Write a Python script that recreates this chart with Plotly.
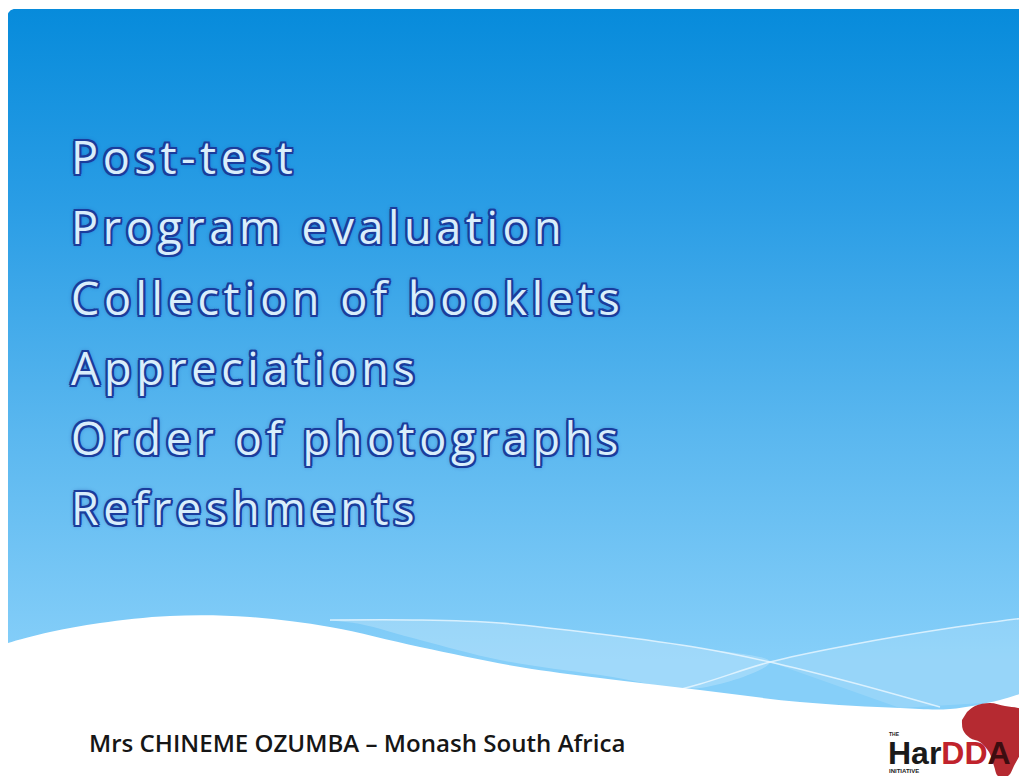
import numpy as np
import plotly.graph_objects as go

W, H = 1027, 776
OFF = 8  # page body margin: makes data coordinates equal screen pixels

# ---- content ----
bullet_items = ["Post-test", "Program evaluation", "Collection of booklets",
                "Appreciations", "Order of photographs", "Refreshments"]
bullet_y = [156, 226, 297, 367, 437, 507]
footer_text = "Mrs CHINEME OZUMBA \u2013 Monash South Africa"
logo_dark, logo_red, logo_last = "Har", "DD", "A"

# background panel (rounded top-left corner)
panel_left, panel_top, panel_bottom, corner_r = 7, 9, 730, 8
bg_colors = [[0.0, "#078bdb"], [0.3, "#2a9de5"], [0.65, "#5ab7ef"], [1.0, "#86cff9"]]

# wave outlines
white_wave_x = [0, 8, 50, 100, 170, 250, 330, 420, 520, 600, 700, 800, 900, 950, 1000, 1040]
white_wave_y = [646, 643, 632, 623, 616, 617, 627, 647, 667, 678, 690, 702, 708, 709, 700, 688]
lineA_x = [330, 420, 500, 600, 700, 770, 850, 940]
lineA_y = [620, 620, 623, 634, 648, 662, 682, 707]
lineB_x = [650, 700, 770, 850, 950, 1040]
lineB_y = [697, 684, 662, 645, 628, 616]
bandA_low_x = [700, 600, 500, 420, 360]
bandA_low_y = [688, 675, 660, 640, 624]

# logo africa outline
africa_x = [967, 975, 990, 1005, 1018, 1030, 1035, 1035, 1022, 1015, 1008, 998, 994, 989, 980, 970, 963, 962]
africa_y = [712, 706, 703, 706, 708, 712, 718, 738, 752, 764, 776, 776, 766, 752, 742, 738, 730, 720]

fig = go.Figure()

# panel polygon
ang = np.linspace(np.pi, 1.5 * np.pi, 20)
cx, cy = panel_left + corner_r, panel_top + corner_r
px = [panel_left] + list(cx + corner_r * np.cos(ang)) + [W + 20, W + 20, panel_left]
py = [panel_bottom] + list(cy + corner_r * np.sin(ang)) + [panel_top, panel_bottom, panel_bottom]
fig.add_trace(go.Scatter(x=px, y=py, mode="lines", fill="toself", line=dict(width=0),
                         fillgradient=dict(type="vertical", colorscale=bg_colors,
                                           start=panel_top, stop=660),
                         hoverinfo="skip", showlegend=False))

# lighter translucent bands
fig.add_trace(go.Scatter(x=lineA_x[:6] + bandA_low_x + [330],
                         y=lineA_y[:6] + bandA_low_y + [620],
                         mode="lines", fill="toself", line=dict(width=0, shape="spline"),
                         fillcolor="rgba(255,255,255,0.22)", hoverinfo="skip", showlegend=False))
fig.add_trace(go.Scatter(x=lineB_x[2:] + [1040, 1000, 900, 770],
                         y=lineB_y[2:] + [690, 702, 708, 662],
                         mode="lines", fill="toself", line=dict(width=0),
                         fillcolor="rgba(255,255,255,0.14)", hoverinfo="skip", showlegend=False))
for lx, ly in [(lineA_x, lineA_y), (lineB_x, lineB_y)]:
    fig.add_trace(go.Scatter(x=lx, y=ly, mode="lines",
                             line=dict(color="rgba(235,248,255,0.8)", width=1.5, shape="spline"),
                             hoverinfo="skip", showlegend=False))

# white wave
fig.add_trace(go.Scatter(x=white_wave_x + [W + 20, W + 20, -10, -10],
                         y=white_wave_y + [688, H + 20, H + 20, 646],
                         mode="lines", fill="toself", line=dict(width=0, shape="spline"),
                         fillcolor="white", hoverinfo="skip", showlegend=False))

# logo africa shape
fig.add_trace(go.Scatter(x=africa_x, y=africa_y, mode="lines", fill="toself",
                         line=dict(width=0, shape="spline"), fillcolor="#b52a31",
                         hoverinfo="skip", showlegend=False))

outline = "#1a3c9c"
o = 1.8
shadow = ", ".join(f"{dx}px {dy}px 0 {outline}" for dx, dy in
                   [(-o, -o), (o, -o), (-o, o), (o, o), (0, o + 0.4), (0, -o - 0.4), (o + 0.4, 0), (-o - 0.4, 0)])
shadow += f", 0 0 5px {outline}"

annotations = []
for txt, yy in zip(bullet_items, bullet_y):
    annotations.append(dict(x=69, y=yy, text=f"<span style='letter-spacing:4.6px'>{txt}</span>",
                            showarrow=False, xanchor="left", yanchor="middle", xref="x", yref="y",
                            font=dict(family="Open Sans", size=45, color="#d9eefb", shadow=shadow,
                                      weight=500)))
annotations.append(dict(x=87, y=742, text=footer_text, showarrow=False, xanchor="left", yanchor="middle",
                        font=dict(family="Open Sans", size=24.1, color="#161616", weight=600)))
annotations.append(dict(x=886, y=753,
                        text=(f"{logo_dark}<span style='color:#c0232c'>{logo_red}</span>"
                              f"<span style='color:#3d0d10'>{logo_last}</span>"),
                        showarrow=False, xanchor="left", yanchor="middle",
                        font=dict(family="Liberation Sans", size=32, color="#1a1a1a", weight="bold")))
annotations.append(dict(x=887, y=734, text="THE", showarrow=False, xanchor="left", yanchor="middle",
                        font=dict(family="Liberation Sans", size=5, color="#222", weight="bold")))
annotations.append(dict(x=887, y=771, text="INITIATIVE", showarrow=False, xanchor="left", yanchor="middle",
                        font=dict(family="Liberation Sans", size=6, color="#222", weight="bold")))

fig.update_layout(width=W, height=H, margin=dict(l=0, r=0, t=0, b=0),
                  paper_bgcolor="white", plot_bgcolor="white",
                  xaxis=dict(range=[OFF, W + OFF], visible=False, fixedrange=True),
                  yaxis=dict(range=[H + OFF, OFF], visible=False, fixedrange=True),
                  annotations=annotations, showlegend=False)
fig.write_html("out.html")
